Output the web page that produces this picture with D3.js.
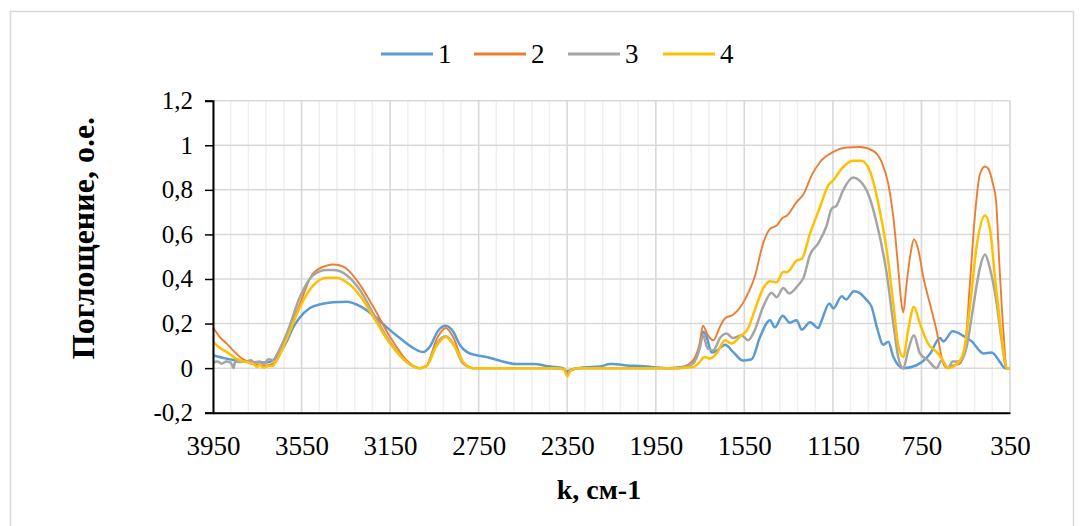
<!DOCTYPE html>
<html>
<head>
<meta charset="utf-8">
<script src="https://cdn.jsdelivr.net/npm/d3@7"></script>
<style>
  body { margin: 0; background: #fff; }
  svg { display: block; }
  svg text { font-family: "Liberation Serif", "Times New Roman", Tinos, "DejaVu Serif", serif; }
</style>
</head>
<body>
<svg id="chart" width="1080" height="526"></svg>
<script>
'use strict'

// series names and colours
const seriesNames = ['1', '2', '3', '4']
const colors = ['#5B9BD5', '#ED7D31', '#A5A5A5', '#FFC000']

// axis ticks
const xTicks = [3950, 3550, 3150, 2750, 2350, 1950, 1550, 1150, 750, 350]
const yTicks = [-0.2, 0, 0.2, 0.4, 0.6, 0.8, 1, 1.2]

// series 1 (blue): wavenumber / absorbance
const k1 = [3950, 3900, 3850, 3783, 3740, 3707, 3662, 3617, 3589, 3560, 3512, 3460, 3408, 3346, 3286, 3227, 3165, 3105, 3045, 3001, 2970, 2934, 2899, 2866, 2834, 2804, 2759, 2714, 2654, 2578, 2504, 2428, 2369, 2353, 2324, 2279, 2202, 2157, 2143, 2080, 2021, 1945, 1900, 1827, 1782, 1752, 1737, 1720, 1698, 1675, 1637, 1601, 1556, 1517, 1479, 1434, 1412, 1377, 1344, 1314, 1291, 1253, 1216, 1201, 1166, 1148, 1110, 1091, 1055, 1030, 997, 975, 952, 922, 900, 877, 832, 772, 712, 666, 651, 609, 561, 523, 470, 433, 395, 373, 350]
const v1 = [0.058, 0.045, 0.035, 0.028, 0.026, 0.025, 0.05, 0.12, 0.18, 0.225, 0.27, 0.288, 0.296, 0.298, 0.278, 0.238, 0.183, 0.134, 0.09, 0.072, 0.097, 0.167, 0.19, 0.165, 0.103, 0.073, 0.058, 0.05, 0.033, 0.018, 0.018, 0.007, 0, -0.015, -0.005, 0.003, 0.007, 0.018, 0.018, 0.012, 0.01, 0.003, 0, 0.005, 0.025, 0.095, 0.163, 0.14, 0.07, 0.078, 0.105, 0.073, 0.034, 0.04, 0.14, 0.215, 0.183, 0.235, 0.204, 0.215, 0.173, 0.206, 0.18, 0.213, 0.29, 0.268, 0.323, 0.308, 0.345, 0.338, 0.305, 0.275, 0.186, 0.105, 0.118, 0.051, 0, 0.013, 0.063, 0.135, 0.12, 0.165, 0.145, 0.12, 0.066, 0.07, 0.027, 0, 0]

// series 2 (orange)
const k2 = [3950, 3920, 3888, 3860, 3828, 3800, 3783, 3740, 3707, 3680, 3662, 3640, 3617, 3557, 3498, 3437, 3407, 3361, 3301, 3226, 3150, 3075, 3015, 2985, 2940, 2899, 2865, 2820, 2774, 2400, 2365, 2350, 2335, 2300, 1850, 1827, 1782, 1752, 1737, 1715, 1690, 1660, 1637, 1601, 1571, 1541, 1503, 1465, 1434, 1404, 1377, 1357, 1314, 1283, 1246, 1208, 1148, 1088, 1028, 968, 930, 900, 877, 855, 840, 832, 817, 799, 784, 764, 742, 712, 682, 651, 633, 609, 576, 553, 531, 508, 486, 463, 448, 428, 413, 398, 380, 365, 350]
const v2 = [0.183, 0.14, 0.11, 0.08, 0.05, 0.032, 0.022, 0.015, 0.012, 0.02, 0.035, 0.08, 0.14, 0.29, 0.425, 0.46, 0.465, 0.455, 0.395, 0.275, 0.14, 0.035, 0, 0.012, 0.13, 0.18, 0.14, 0.027, 0, 0, -0.005, -0.025, -0.01, 0, 0, 0.005, 0.035, 0.11, 0.19, 0.148, 0.125, 0.186, 0.224, 0.24, 0.27, 0.32, 0.41, 0.56, 0.625, 0.64, 0.675, 0.685, 0.745, 0.78, 0.865, 0.925, 0.97, 0.99, 0.992, 0.975, 0.925, 0.828, 0.678, 0.45, 0.287, 0.25, 0.38, 0.515, 0.578, 0.53, 0.41, 0.29, 0.17, 0.02, 0, 0.012, 0.02, 0.095, 0.38, 0.69, 0.87, 0.905, 0.895, 0.83, 0.75, 0.465, 0.17, 0, 0]

// series 3 (grey)
const k3 = [3950, 3930, 3910, 3890, 3870, 3857, 3850, 3830, 3800, 3780, 3760, 3740, 3720, 3700, 3680, 3662, 3617, 3557, 3498, 3437, 3407, 3346, 3286, 3226, 3150, 3075, 3015, 2985, 2940, 2899, 2865, 2820, 2774, 2400, 2365, 2350, 2335, 2300, 1850, 1782, 1752, 1737, 1715, 1690, 1660, 1630, 1601, 1563, 1533, 1503, 1465, 1427, 1404, 1374, 1347, 1307, 1283, 1253, 1216, 1178, 1156, 1133, 1103, 1058, 1028, 990, 952, 907, 877, 855, 832, 810, 784, 757, 720, 682, 658, 630, 609, 576, 546, 516, 486, 463, 440, 410, 388, 365, 350]
const v3 = [0.025, 0.03, 0.02, 0.03, 0.025, 0.0, 0.03, 0.028, 0.03, 0.035, 0.025, 0.03, 0.02, 0.04, 0.035, 0.06, 0.155, 0.32, 0.417, 0.44, 0.44, 0.417, 0.35, 0.245, 0.117, 0.027, 0, 0.01, 0.11, 0.143, 0.11, 0.02, 0, 0, -0.005, -0.025, -0.01, 0, 0, 0.02, 0.087, 0.148, 0.087, 0.08, 0.135, 0.155, 0.135, 0.148, 0.125, 0.17, 0.275, 0.338, 0.318, 0.36, 0.335, 0.372, 0.405, 0.51, 0.56, 0.64, 0.715, 0.73, 0.8, 0.855, 0.84, 0.78, 0.65, 0.425, 0.2, 0.05, 0, 0.08, 0.148, 0.066, 0.035, 0, 0.035, 0, 0.03, 0.03, 0.095, 0.275, 0.45, 0.51, 0.445, 0.29, 0.125, 0, 0]

// series 4 (yellow)
const k4 = [3950, 3930, 3910, 3888, 3870, 3850, 3828, 3810, 3790, 3770, 3750, 3740, 3720, 3707, 3680, 3662, 3617, 3557, 3498, 3437, 3392, 3346, 3286, 3226, 3150, 3075, 3015, 2985, 2940, 2899, 2865, 2820, 2774, 2400, 2365, 2350, 2335, 2300, 1850, 1782, 1752, 1730, 1705, 1675, 1637, 1608, 1571, 1533, 1503, 1465, 1434, 1404, 1374, 1357, 1314, 1291, 1253, 1208, 1171, 1148, 1110, 1058, 1022, 983, 945, 907, 877, 855, 832, 810, 784, 757, 720, 682, 658, 630, 592, 561, 531, 501, 463, 440, 418, 395, 380, 365, 350]
const v4 = [0.118, 0.1, 0.085, 0.073, 0.06, 0.045, 0.035, 0.03, 0.025, 0.02, 0.005, 0.015, 0.002, 0.008, 0.01, 0.035, 0.13, 0.275, 0.37, 0.405, 0.405, 0.385, 0.325, 0.23, 0.11, 0.027, 0, 0.01, 0.1, 0.14, 0.107, 0.027, 0, 0, -0.005, -0.036, -0.012, 0, 0, 0.005, 0.027, 0.05, 0.043, 0.066, 0.125, 0.11, 0.14, 0.178, 0.26, 0.358, 0.39, 0.385, 0.433, 0.43, 0.483, 0.49, 0.605, 0.723, 0.82, 0.843, 0.895, 0.93, 0.93, 0.885, 0.74, 0.53, 0.29, 0.105, 0.05, 0.17, 0.275, 0.2, 0.11, 0.073, 0.043, 0, 0.017, 0.066, 0.275, 0.545, 0.685, 0.62, 0.41, 0.2, 0.08, 0, 0]

const series = [
	{ name: seriesNames[0], k: k1, v: v1, color: colors[0], width: 2.5 },
	{ name: seriesNames[1], k: k2, v: v2, color: colors[1], width: 1.9 },
	{ name: seriesNames[2], k: k3, v: v3, color: colors[2], width: 2.5 },
	{ name: seriesNames[3], k: k4, v: v4, color: colors[3], width: 2.5 }
]

const plot = { left: 213, right: 1010, top: 100.7, bottom: 412.7 }
const fontFamily = '"Liberation Serif", "Times New Roman", Tinos, "DejaVu Serif", serif'

const svg = d3.select('#chart')

// outer chart border
svg.append('rect')
	.attr('x', 10.5).attr('y', 11.5)
	.attr('width', 1063).attr('height', 540)
	.attr('fill', 'none')
	.attr('stroke', '#d9d9d9')
	.attr('stroke-width', 1.5)

const x = d3.scaleLinear().domain([3950, 350]).range([plot.left, plot.right])
const y = d3.scaleLinear().domain([-0.2, 1.2]).range([plot.bottom, plot.top])

// minor vertical grid every 80
const minorX = d3.range(3950, 349, -80)
svg.append('g').selectAll('line')
	.data(minorX)
	.join('line')
	.attr('x1', d => x(d)).attr('x2', d => x(d))
	.attr('y1', plot.top).attr('y2', plot.bottom)
	.attr('stroke', '#efefef')
	.attr('stroke-width', 1.5)

// major vertical grid
svg.append('g').selectAll('line')
	.data(xTicks)
	.join('line')
	.attr('x1', d => x(d)).attr('x2', d => x(d))
	.attr('y1', plot.top).attr('y2', plot.bottom)
	.attr('stroke', '#d9d9d9')
	.attr('stroke-width', 1.5)

// horizontal grid
svg.append('g').selectAll('line')
	.data(yTicks)
	.join('line')
	.attr('x1', plot.left).attr('x2', plot.right)
	.attr('y1', d => y(d)).attr('y2', d => y(d))
	.attr('stroke', '#d9d9d9')
	.attr('stroke-width', 1.5)

// curves
const line = d3.line()
	.x(d => x(d[0]))
	.y(d => y(d[1]))
	.curve(d3.curveMonotoneX)

series.forEach(s => {
	svg.append('path')
		.datum(s.k.map((k, i) => [k, s.v[i]]))
		.attr('d', line)
		.attr('fill', 'none')
		.attr('stroke', s.color)
		.attr('stroke-width', s.width)
		.attr('stroke-linejoin', 'round')
})

// y axis
const yAxis = svg.append('g')
	.attr('transform', 'translate(' + plot.left + ',0)')
	.call(d3.axisLeft(y).tickValues(yTicks).tickSize(8).tickPadding(12)
		.tickFormat(d => String(+d.toFixed(1)).replace('.', ',')))
yAxis.attr('font-family', fontFamily)
yAxis.select('.domain').attr('stroke', '#000').attr('stroke-width', 2)
yAxis.selectAll('.tick line').attr('stroke', '#000').attr('stroke-width', 1.5)
yAxis.selectAll('.tick text')
	.attr('fill', '#000')
	.style('font-size', '25px')

// x axis
const xAxis = svg.append('g')
	.attr('transform', 'translate(0,' + plot.bottom + ')')
	.call(d3.axisBottom(x).tickValues(xTicks).tickSize(0).tickPadding(23).tickFormat(d3.format('d')))
xAxis.attr('font-family', fontFamily)
xAxis.select('.domain').attr('stroke', '#000').attr('stroke-width', 2)
xAxis.selectAll('.tick text')
	.attr('fill', '#000')
	.style('font-size', '27px')

// axis titles
svg.append('text')
	.attr('x', 599)
	.attr('y', 499)
	.attr('text-anchor', 'middle')
	.style('font-size', '28px')
	.style('font-weight', 'bold')
	.text('k, см-1')

svg.append('text')
	.attr('transform', 'translate(94,' + 238 + ') rotate(-90)')
	.attr('text-anchor', 'middle')
	.style('font-size', '32px')
	.style('font-weight', 'bold')
	.text('Поглощение, о.е.')

// legend
const legendX = [381, 474, 568, 663]
const legend = svg.append('g')
series.forEach((s, i) => {
	legend.append('line')
		.attr('x1', legendX[i]).attr('x2', legendX[i] + 52)
		.attr('y1', 54).attr('y2', 54)
		.attr('stroke', s.color)
		.attr('stroke-width', 3)
	legend.append('text')
		.attr('x', legendX[i] + 57)
		.attr('y', 63)
		.style('font-size', '27px')
		.text(s.name)
})
</script>
</body>
</html>
